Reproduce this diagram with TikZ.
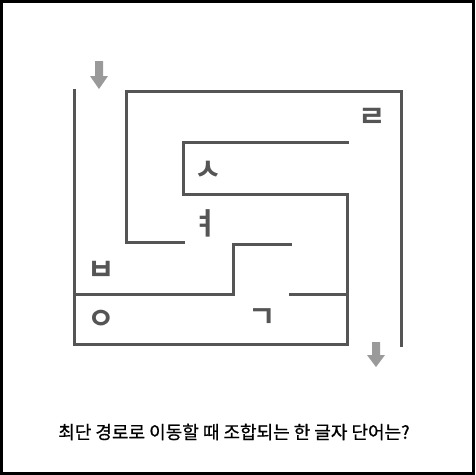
\documentclass[tikz,border=0pt]{standalone}
\usepackage{fontspec}
\newfontfamily\kr[FakeBold=0.8]{Noto Sans CJK KR}
\newfontfamily\krb{Noto Sans CJK KR Bold}
\usetikzlibrary{positioning}
\definecolor{wallgray}{HTML}{555555}
\definecolor{arrowgray}{HTML}{9A9A9A}
\tikzset{
x=1pt, y=-1pt,
wall/.style={draw=wallgray,line width=3pt,line cap=rect,line join=miter},
jamo/.style={font=\krb\fontsize{30}{30}\selectfont,text=wallgray,inner sep=0pt},
way/.style={fill=arrowgray,draw=none}
}

\begin{document}
\begin{tikzpicture}
\useasboundingbox (0,0) rectangle (475,475);
\draw[line width=3pt] (1.5,1.5) rectangle (473.5,473.5);

% walls
\draw[wall] (74,90) -- (74,344) -- (347,344) -- (347,194) -- (183,194) -- (183,142) -- (347,142);
\draw[wall] (126,242) -- (183,242);
\draw[wall] (126,242) -- (126,91) -- (401,91) -- (401,345);
\draw[wall] (74,294) -- (233,294) -- (233,244) -- (290,244);
\draw[wall] (290,294) -- (347,294);

% in and out
\fill[way] (95,61) -- (103,61) -- (103,76) -- (108,76) -- (99,89) -- (90,76) -- (95,76) -- cycle;
\fill[way] (372,342) -- (380,342) -- (380,355) -- (385,355) -- (376,367) -- (367,355) -- (372,355) -- cycle;

% letters
\node[jamo] (rieul) at (372,118) {ㄹ};
\node[jamo] (siot)  at (208,171) {ㅅ};
\node[jamo] (yeo)   at (205,223) {ㅕ};
\node[jamo] (bieup) at (101,271) {ㅂ};
\node[jamo] (ieung) at (101,320) {ㅇ};
\node[jamo] (giyeok) at (262,318) {ㄱ};

\node[font=\kr\fontsize{18}{18}\selectfont,inner sep=0pt] (question) at (234,432)
  {최단 경로로 이동할 때 조합되는 한 글자 단어는?};
\end{tikzpicture}
\end{document}
